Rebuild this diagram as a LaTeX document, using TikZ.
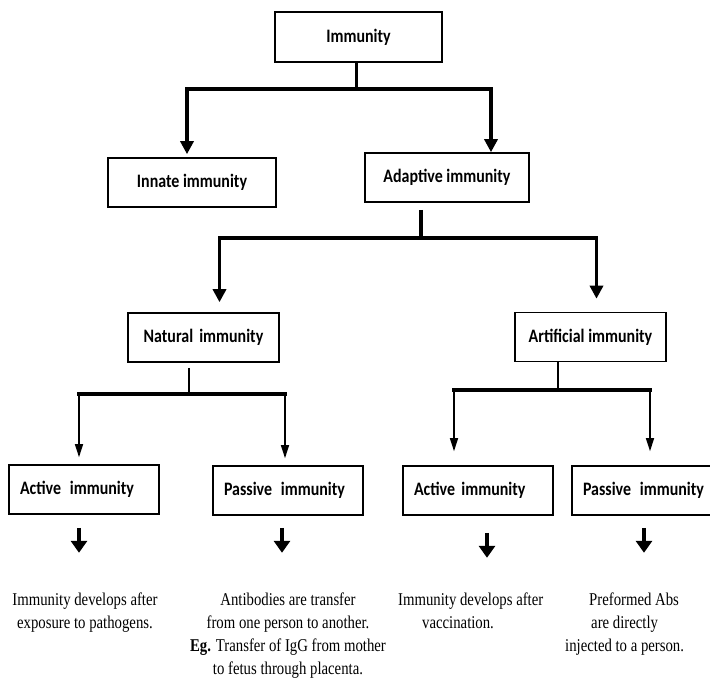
\documentclass[tikz,border=0pt]{standalone}
\usepackage{fontspec}
\setmainfont{Liberation Serif}[FakeStretch=0.82]
\newfontfamily\labelfont{Carlito}[FakeStretch=0.84]
\usepackage{tikz}
\usetikzlibrary{arrows.meta}

\begin{document}
\begin{tikzpicture}[
    x=1pt, y=-1pt,
    box/.style={draw, line width=1.6pt, minimum height=49pt, inner sep=0pt,
        font={\labelfont\bfseries\fontsize{19}{23}\selectfont}},
    leaf/.style={box, align=left, text width=128pt, inner xsep=11pt, minimum width=150pt},
    note/.style={anchor=north, align=center, inner sep=0pt, font={\fontsize{18}{23}\selectfont}},
    trunk/.style={line width=3.5pt},
    trunkarrow/.style={trunk, -{Triangle[width=13pt,length=13pt]}},
    bar/.style={line width=4pt, line cap=rect},
    twig/.style={line width=1.6pt, -{Triangle[width=8pt,length=13pt]}},
    pointer/.style={line width=4.5pt, -{Triangle[width=16pt,length=12pt]}}
]
    \useasboundingbox (0,0) rectangle (710,680);
    \def\gap{\kern2.5pt\ }

    % Radice
    \node[box, minimum width=167pt, minimum height=50pt] (immunity) at (358.5,37) {Immunity};

    % Primo livello
    \node[box, minimum width=168pt] (innate) at (192,182.5) {Innate immunity};
    \node[box, minimum width=164pt] (adaptive) at (447,177.5) {Adaptive immunity};

    \draw[trunk] ([xshift=-2pt]immunity.south) -- ++(0,26) coordinate (rootsplit);
    \draw[trunkarrow, shorten >=3pt] (rootsplit) -| ([xshift=-5pt]innate.north);
    \draw[trunkarrow] (rootsplit) -| ([xshift=44pt]adaptive.north);

    % Secondo livello
    \node[box, minimum width=151pt] (natural) at (203.5,337.5) {Natural\gap immunity};
    \node[box, minimum width=151pt] (artificial) at (590.5,337) {Artificial immunity};

    \draw[trunk, shorten <=7pt] ([xshift=-26pt]adaptive.south) -- ++(0,35) coordinate (adaptsplit);
    \draw[trunkarrow, shorten >=10pt] (adaptsplit) -| ([xshift=16pt]natural.north);
    \draw[trunkarrow, shorten >=13pt] (adaptsplit) -| ([xshift=6pt]artificial.north);

    % Terzo livello
    \node[leaf] (natact) at (84,489.5) {Active\gap immunity};
    \node[leaf] (natpas) at (288,490.5) {Passive\gap immunity};
    \node[leaf] (artact) at (478,490.5) {Active immunity};
    \node[leaf] (artpas) at (647,490.5) {Passive\gap immunity};

    \coordinate (natactin) at ([xshift=-5pt]natact.north);
    \coordinate (natpasin) at ([xshift=-3pt]natpas.north);
    \coordinate (artactin) at ([xshift=-24pt]artact.north);
    \coordinate (artpasin) at ([xshift=3pt]artpas.north);

    \draw[trunk, line width=2.5pt, shorten <=5pt] ([xshift=-14.5pt]natural.south) -- ++(0,31) coordinate (natsplit);
    \draw[bar] (natactin |- natsplit) -- (natpasin |- natsplit);
    \draw[twig, shorten >=7pt] (natactin |- natsplit) -- (natactin);
    \draw[twig, shorten >=7pt] (natpasin |- natsplit) -- (natpasin);

    \draw[trunk, line width=2.5pt] ([xshift=-32.5pt]artificial.south) -- ++(0,28) coordinate (artsplit);
    \draw[bar] (artactin |- artsplit) -- (artpasin |- artsplit);
    \draw[twig, shorten >=14pt] (artactin |- artsplit) -- (artactin);
    \draw[twig, shorten >=14pt] (artpasin |- artsplit) -- (artpasin);

    % Note
    \node[note] (natactnote) at (85,593) {Immunity develops after\\exposure to pathogens.};
    \node[note] (natpasnote) at (288,593) {Antibodies are transfer\\from one person to another.\\\textbf{Eg.} Transfer of IgG from mother\\to fetus through placenta.};
    \node[note, anchor=north west, align=left] (artactnote) at (398,593) {Immunity develops after\\\hspace*{24pt}vaccination.};
    \node[note, anchor=north west, align=left] (artpasnote) at (565,593) {\hspace*{24pt}Preformed Abs\\\hspace*{26pt}are directly\\injected to a person.};

    \draw[pointer, shorten <=13pt] ([xshift=-5pt]natact.south) -- ++(0,38);
    \draw[pointer, shorten <=12pt] ([xshift=-6pt]natpas.south) -- ++(0,37);
    \draw[pointer, shorten <=17pt] ([xshift=9pt]artact.south) -- ++(0,42);
    \draw[pointer, shorten <=12pt] ([xshift=-3pt]artpas.south) -- ++(0,37);

\end{tikzpicture}
\end{document}
